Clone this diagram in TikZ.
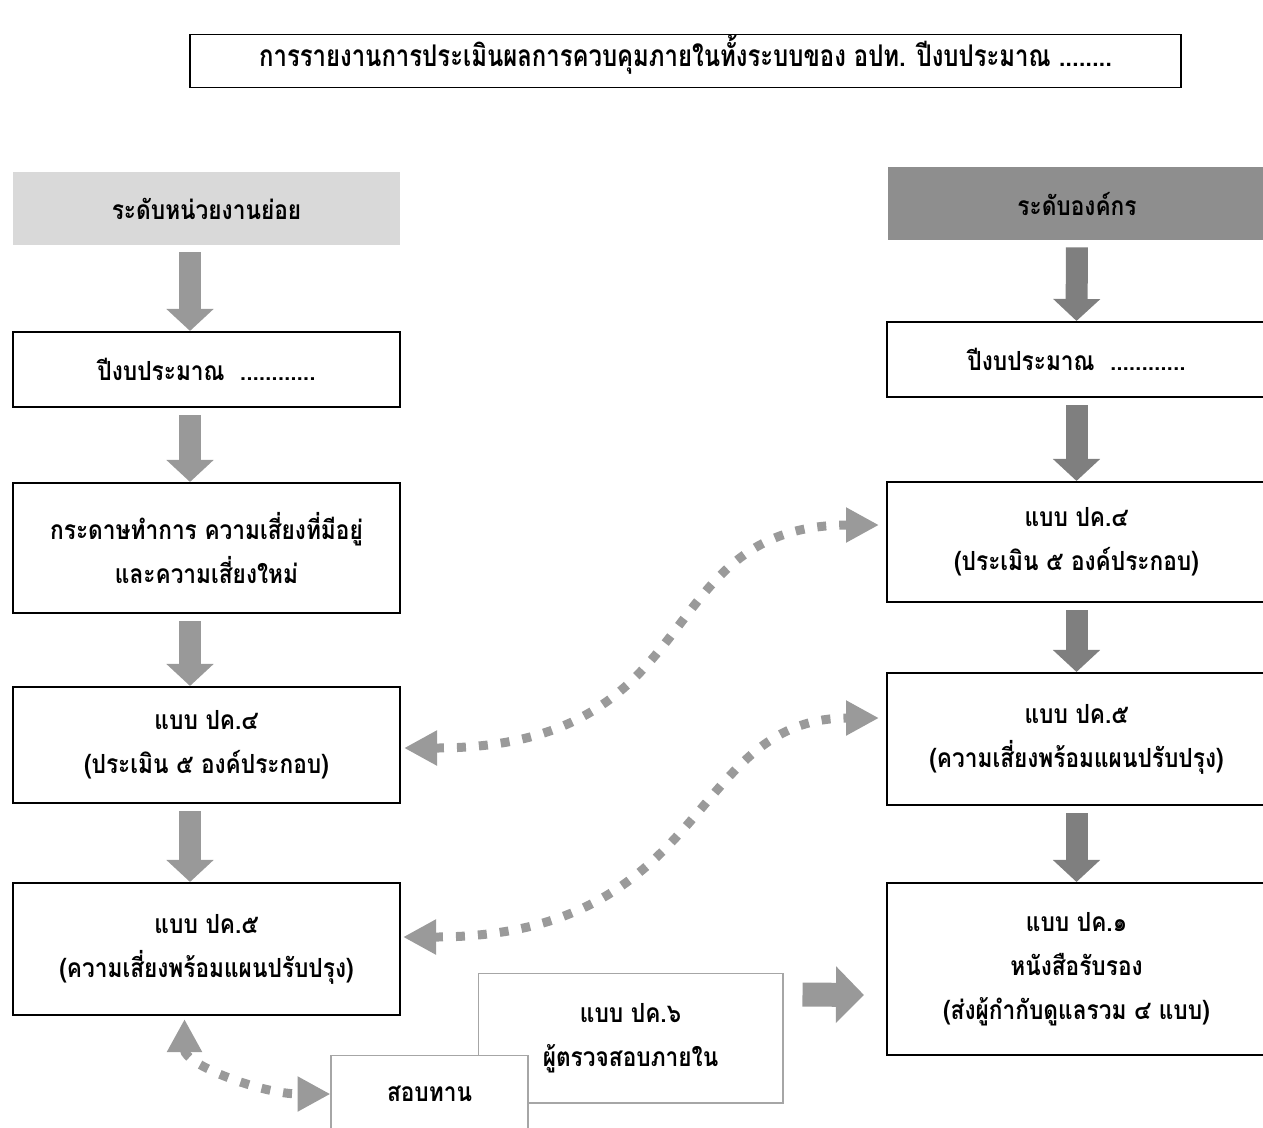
\documentclass[tikz,border=0pt]{standalone}
\usepackage{fontspec}
\setmainfont[Script=Thai, FakeStretch=0.86]{Loma}
\newfontfamily\titlefont[Script=Thai, FakeStretch=0.8]{Loma}
\usetikzlibrary{arrows.meta}

\definecolor{headlight}{HTML}{D9D9D9}
\definecolor{headdark}{HTML}{8E8E8E}
\definecolor{arrowlight}{HTML}{999999}
\definecolor{arrowdark}{HTML}{7F7F7F}
\definecolor{linkgray}{HTML}{9A9A9A}

\begin{document}
\begin{tikzpicture}[
    x=0.02cm, y=-0.02cm,
    box/.style={draw, line width=1.2pt, align=center, inner sep=0pt, font=\bfseries\fontsize{15}{25}\selectfont},
    leftbox/.style={box, minimum width=7.74cm},
    rightbox/.style={box, minimum width=7.58cm},
    softbox/.style={draw=gray!70, line width=0.6pt, fill=white, align=center, inner sep=0pt, font=\bfseries\fontsize{15}{25}\selectfont},
    header/.style={minimum height=1.46cm, inner sep=0pt, font=\bfseries\fontsize{15}{25}\selectfont},
    downarrow/.style={-{Triangle[length=0.44cm, width=0.92cm]}, line width=0.44cm},
    sidearrow/.style={-{Triangle[length=0.56cm, width=1.1cm]}, line width=0.48cm, arrowlight},
    link/.style={{Triangle[length=0.66cm, width=0.66cm]}-{Triangle[length=0.66cm, width=0.66cm]},
        line width=0.18cm, dash pattern=on 0.18cm off 0.26cm, linkgray}
]
    \useasboundingbox (0,0) rectangle (1263,1127);

    % Title
    \node[draw, line width=0.8pt, minimum width=19.82cm, minimum height=1.06cm,
          inner sep=0pt, text height=0.62cm, text depth=0.4cm,
          font=\titlefont\bfseries\fontsize{17}{20}\selectfont] (title) at (685.5,61)
        {การรายงานการประเมินผลการควบคุมภายในทั้งระบบของ อปท. ปีงบประมาณ ........};

    % Headers
    \node[header, fill=headlight, minimum width=7.74cm] (lhead) at (206.5,208.5) {ระดับหน่วยงานย่อย};
    \node[header, fill=headdark, minimum width=7.58cm] (rhead) at (1077,203.5) {ระดับองค์กร};

    % Left column
    \node[leftbox, minimum height=1.5cm] (l1) at (206.5,369.5) {ปีงบประมาณ~~............};
    \node[leftbox, minimum height=2.6cm] (l2) at (206.5,548) {กระดาษทำการ ความเสี่ยงที่มีอยู่\\และความเสี่ยงใหม่};
    \node[leftbox, minimum height=2.32cm] (l3) at (206.5,745) {แบบ ปค.๔\\(ประเมิน ๕ องค์ประกอบ)};
    \node[leftbox, minimum height=2.64cm] (l4) at (206.5,949) {แบบ ปค.๕\\(ความเสี่ยงพร้อมแผนปรับปรุง)};

    % Right column
    \node[rightbox, minimum height=1.5cm] (r1) at (1076.5,359.5) {ปีงบประมาณ~~............};
    \node[rightbox, minimum height=2.4cm] (r2) at (1076.5,542) {แบบ ปค.๔\\(ประเมิน ๕ องค์ประกอบ)};
    \node[rightbox, minimum height=2.64cm] (r3) at (1076.5,739) {แบบ ปค.๕\\(ความเสี่ยงพร้อมแผนปรับปรุง)};
    \node[rightbox, minimum height=3.44cm] (r4) at (1076.5,969) {แบบ ปค.๑\\หนังสือรับรอง\\(ส่งผู้กำกับดูแลรวม ๔ แบบ)};

    % Internal audit
    \node[softbox, minimum width=6.1cm, minimum height=2.6cm] (pk6) at (630.5,1038) {แบบ ปค.๖\\ผู้ตรวจสอบภายใน};
    \node[softbox, minimum width=3.94cm, minimum height=1.56cm] (sob) at (429.5,1094) {สอบทาน};

    % Flow down each column
    \foreach \a/\b in {lhead/l1, l1/l2, l2/l3, l3/l4}
        \draw[downarrow, arrowlight, shorten <=0.14cm] ([xshift=-0.33cm]\a.south) -- ([xshift=-0.33cm]\b.north);
    \foreach \a/\b in {rhead/r1, r1/r2, r2/r3, r3/r4}
        \draw[downarrow, arrowdark, shorten <=0.14cm] (\a.south) -- (\b.north);

    % Links between levels
    \draw[link, shorten >=0.14cm] ([xshift=0.06cm,yshift=-0.06cm]l3.east) .. controls +(310,0) and +(-240,0) .. ([yshift=0.34cm]r2.west);
    \draw[link, shorten >=0.14cm] ([xshift=0.04cm,yshift=0.24cm]l4.east) .. controls +(310,0) and +(-200,0) .. ([yshift=0.42cm]r3.west);
    \draw[link] ([xshift=-0.44cm,yshift=-0.06cm]l4.south) .. controls +(0,45) and +(-70,0) .. (sob.west);

    % Audit result to certification
    \draw[sidearrow] ([xshift=0.38cm,yshift=-0.44cm]pk6.north east) -- ([xshift=-0.44cm,yshift=-0.52cm]r4.west);
\end{tikzpicture}
\end{document}
